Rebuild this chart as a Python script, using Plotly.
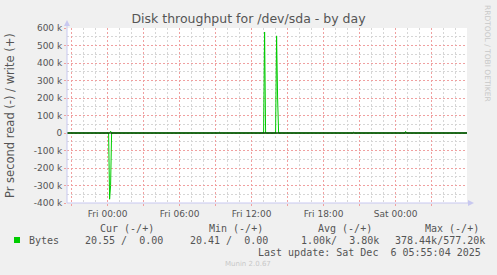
import plotly.graph_objects as go

# ---- data (bytes per second, 5-minute samples) ----
times = ["2025-12-04 20:37", "2025-12-05 00:05", "2025-12-05 00:10", "2025-12-05 00:15",
         "2025-12-05 00:20", "2025-12-05 09:15", "2025-12-05 09:20", "2025-12-05 09:25",
         "2025-12-05 13:00", "2025-12-05 13:05", "2025-12-05 13:10",
         "2025-12-05 14:00", "2025-12-05 14:05", "2025-12-05 14:10", "2025-12-05 14:15",
         "2025-12-05 20:25", "2025-12-05 20:30", "2025-12-05 20:35",
         "2025-12-06 00:45", "2025-12-06 00:50", "2025-12-06 00:55", "2025-12-06 05:57"]
read_bytes = [0, 0, 378440, 300000, 0, 0, 0, 0, 0, 0, 0, 0, 0, 0, 0, 0, 0, 0, 0, 0, 0, 0]
write_bytes = [0, 0, 0, 10000, 0, 0, 4000, 0, 0, 577200, 0, 0, 555000, 200000, 0,
               0, 4000, 0, 0, 9000, 0, 0]

x_range = ["2025-12-04 20:37", "2025-12-06 05:57"]
x_tickvals = ["2025-12-04 21:00", "2025-12-05 00:00", "2025-12-05 03:00", "2025-12-05 06:00",
              "2025-12-05 09:00", "2025-12-05 12:00", "2025-12-05 15:00", "2025-12-05 18:00",
              "2025-12-05 21:00", "2025-12-06 00:00", "2025-12-06 03:00"]
x_ticktext = ["", "Fri 00:00", "", "Fri 06:00", "", "Fri 12:00", "", "Fri 18:00", "",
              "Sat 00:00", ""]
y_tickvals = [-400000, -300000, -200000, -100000, 0, 100000, 200000, 300000, 400000,
              500000, 600000]
y_ticktext = ["-400 k", "-300 k", "-200 k", "-100 k", "0", "100 k", "200 k", "300 k",
              "400 k", "500 k", "600 k"]

title = "Disk throughput for /dev/sda - by day"
y_title = "Pr second read (-) / write (+)"
legend_header = ["Cur (-/+)", "Min (-/+)", "Avg (-/+)", "Max (-/+)"]
legend_values = ["20.55 /  0.00", "20.41 /  0.00", "1.00k/  3.80k", "378.44k/577.20k"]
last_update = "Last update: Sat Dec  6 05:55:04 2025"

GREEN = "#00CC00"
TXT = "#555555"
MONO = "DejaVu Sans Mono"
SANS = "DejaVu Sans"
MAJ = "#F0A0A0"
MIN = "#D6D6D6"

# plot area in pixels
L, R, T, B = 67, 467, 28, 203
W, H = 497, 275


def px(xp):
    return (xp - L) / (R - L)


def py(yp):
    return (B - yp) / (B - T)


fig = go.Figure()
fig.add_trace(go.Scatter(x=times, y=[-v for v in read_bytes], mode="lines",
                         line=dict(color=GREEN, width=1), hoverinfo="skip"))
fig.add_trace(go.Scatter(x=times, y=write_bytes, mode="lines",
                         line=dict(color=GREEN, width=1), hoverinfo="skip"))

annotations = []
# y title
annotations.append(dict(x=px(10), y=py(116), xref="paper", yref="paper",
                        xanchor="center", yanchor="middle",
                        text=y_title, textangle=-90, showarrow=False,
                        font=dict(family=SANS, size=11.5, color=TXT)))
# rrdtool credit
annotations.append(dict(x=px(488), y=py(53), xref="paper", yref="paper",
                        xanchor="center", yanchor="middle",
                        text="RRDTOOL / TOBI OETIKER", textangle=90, showarrow=False,
                        font=dict(family=SANS, size=7.5, color="#C8C8C8")))
# legend header
for txt, xl in zip(legend_header, [98, 207, 316, 423]):
    annotations.append(dict(x=px(xl), y=py(228), xref="paper", yref="paper",
                            xanchor="left", yanchor="middle", text=txt, showarrow=False,
                            font=dict(family=MONO, size=10, color=TXT)))
annotations.append(dict(x=px(27), y=py(240), xref="paper", yref="paper",
                        xanchor="left", yanchor="middle", text="Bytes", showarrow=False,
                        font=dict(family=MONO, size=10, color=TXT)))
for txt, xl in zip(legend_values, [83, 188, 299, 393]):
    annotations.append(dict(x=px(xl), y=py(240), xref="paper", yref="paper",
                            xanchor="left", yanchor="middle",
                            text=txt.replace(" ", "\u00a0"), showarrow=False,
                            font=dict(family=MONO, size=10, color=TXT)))
annotations.append(dict(x=px(483), y=py(252), xref="paper", yref="paper",
                        xanchor="right", yanchor="middle",
                        text=last_update.replace(" ", "\u00a0"), showarrow=False,
                        font=dict(family=MONO, size=10, color=TXT)))
annotations.append(dict(x=px(248), y=py(264), xref="paper", yref="paper",
                        xanchor="center", yanchor="middle", text="Munin 2.0.67",
                        showarrow=False, font=dict(family=SANS, size=7, color="#C8C8C8")))

AX = "#C8C8F0"
shapes = [
    # legend colour box
    dict(type="rect", xref="paper", yref="paper", x0=px(14), x1=px(20), y0=py(243), y1=py(237),
         fillcolor=GREEN, line=dict(width=0)),
    # zero line
    dict(type="line", xref="paper", yref="y", x0=0, x1=1, y0=0, y1=0,
         line=dict(color="black", width=1.2), layer="above"),
    # axes with arrows
    dict(type="line", xref="paper", yref="paper", x0=0, x1=0, y0=0, y1=py(24),
         line=dict(color=AX, width=1)),
    dict(type="path", xref="paper", yref="paper",
         path=f"M {px(64)},{py(26)} L {px(70)},{py(26)} L {px(67)},{py(20)} Z",
         fillcolor=AX, line=dict(width=0)),
    dict(type="line", xref="paper", yref="paper", x0=0, x1=px(470), y0=0, y1=0,
         line=dict(color=AX, width=1)),
    dict(type="path", xref="paper", yref="paper",
         path=f"M {px(468)},{py(200)} L {px(468)},{py(206)} L {px(474)},{py(203)} Z",
         fillcolor=AX, line=dict(width=0)),
]

fig.update_layout(
    width=W, height=H,
    margin=dict(l=L, r=W - R, t=T, b=H - B),
    paper_bgcolor="#F0F0F0", plot_bgcolor="#FFFFFF",
    showlegend=False,
    title=dict(text=title, x=0.5, xanchor="center", y=1 - 19 / H, yanchor="middle",
               font=dict(family=SANS, size=12.5, color=TXT)),
    annotations=annotations, shapes=shapes,
    xaxis=dict(type="date", range=x_range, tickmode="array", tickvals=x_tickvals,
               ticktext=x_ticktext, showgrid=True, gridcolor=MAJ,
               griddash="2px,2px", gridwidth=1, zeroline=False, showline=False,
               ticks="outside", ticklen=2, tickcolor=MAJ,
               tickfont=dict(family=SANS, size=9, color=TXT),
               minor=dict(tick0="2025-12-04 21:00", dtick=3600000, showgrid=True,
                          gridcolor=MIN, griddash="2px,2px", gridwidth=1,
                          ticks="")),
    yaxis=dict(range=[-400000, 600000], tickmode="array", tickvals=y_tickvals,
               ticktext=y_ticktext, showgrid=True, gridcolor=MAJ,
               griddash="2px,2px", gridwidth=1, zeroline=False, showline=False,
               ticks="outside", ticklen=2, tickcolor=MAJ,
               tickfont=dict(family=SANS, size=9, color=TXT),
               minor=dict(dtick=50000, tick0=0, showgrid=True, gridcolor=MIN,
                          griddash="2px,2px", gridwidth=1, ticks="")),
)

fig.write_html("out.html")
